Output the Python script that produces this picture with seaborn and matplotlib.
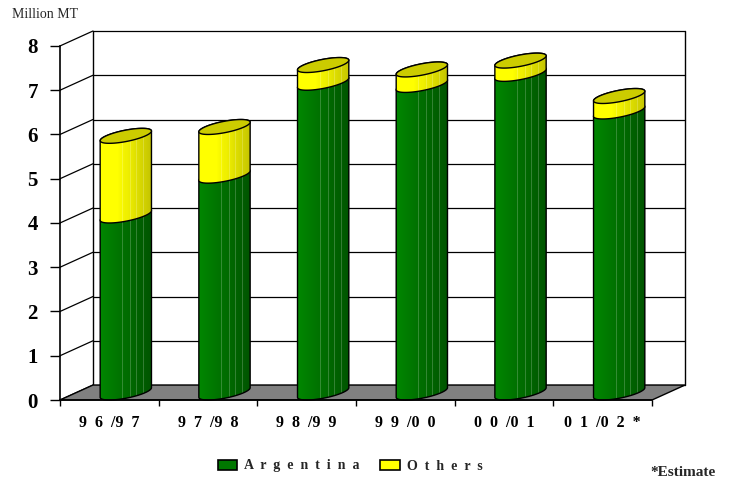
import numpy as np
import pandas as pd
import matplotlib
matplotlib.use("Agg")
import matplotlib.pyplot as plt
from matplotlib.colors import to_rgb
from matplotlib.patches import Polygon, Patch
import seaborn as sns

# Dados (milhões de toneladas métricas)
seasons = ["96/97", "97/98", "98/99", "99/00", "00/01", "01/02*"]
season_labels = ["9  6  /9  7", "9  7  /9  8", "9  8  /9  9", "9  9  /0  0",
                 "0  0  /0  1", "0  1  /0  2  *"]
argentina = [4.0, 4.9, 7.0, 6.95, 7.2, 6.35]
others = [1.8, 1.1, 0.4, 0.35, 0.3, 0.35]
y_ticks = [0, 1, 2, 3, 4, 5, 6, 7, 8]
legend_labels = ["A  r  g  e  n  t  i  n  a", "O  t  h  e  r  s"]

GREEN = "#007800"
YELLOW = "#FFFF00"
CAP = "#CCCC00"
FLOOR = "#808080"

sns.set_style("white")
plt.rcParams["font.family"] = ["Liberation Serif", "DejaVu Serif"]
plt.rcParams["font.weight"] = "bold"

fig = plt.figure(figsize=(7.32, 4.8), dpi=100)
ax = fig.add_axes([60 / 732, 80 / 480, 625 / 732, 369 / 480])

n = len(seasons)
top = y_ticks[-1]
hx, hy = 0.167, 0.169   # metade da profundidade do efeito 3D (unidades de dados)
bar_w = 0.52

df = pd.DataFrame({"season": seasons, "Argentina": argentina, "Others": others})
sns.barplot(data=df, x="season", y="Argentina", color=GREEN, width=bar_w, saturation=1,
            errorbar=None, linewidth=0, ax=ax)
sns.barplot(data=df, x="season", y="Others", bottom=argentina, color=YELLOW, width=bar_w,
            saturation=1, errorbar=None, linewidth=0, ax=ax)
bars = list(ax.patches)


def shade(color, dark):
    # gradiente horizontal do cilindro (claro à esquerda, escuro à direita)
    rgb = np.array(to_rgb(color))
    u = np.linspace(0, 1, 51)
    f = 1.12 - dark * u
    img = np.clip(rgb[None, :] * f[:, None], 0, 1)
    for j in (22, 29, 35, 42):
        img[j] = img[j] * 0.8 + 0.2
    return img[None, :, :]


for k, p in enumerate(bars):
    color = p.get_facecolor()
    x0, w = p.get_x(), p.get_width()
    y0, y1 = p.get_y(), p.get_y() + p.get_height()
    xc, hw = x0 + w / 2, w / 2
    a = np.sqrt(hw ** 2 - hx ** 2)
    th = np.arctan2(hx, a)
    t_low = np.linspace(np.pi + th, 2 * np.pi + th, 60)
    t_up = np.linspace(th, np.pi + th, 60)

    def ex(t):
        return xc + a * np.cos(t) + hx * np.sin(t)

    def ey(t, v):
        return v + hy * np.sin(t)

    body = np.column_stack([np.r_[ex(t_low), ex(t_up)],
                            np.r_[ey(t_low, y0), ey(t_up, y1)]])
    clip = Polygon(body, closed=True, transform=ax.transData)
    z = 3 + k // n
    p.set_y(y0 - hy)
    p.set_height(y1 - y0 + 2 * hy)
    p.set_clip_path(clip)
    p.set_zorder(z)
    im = ax.imshow(shade(color, 0.42 if k < n else 0.35),
                   extent=(xc - hw, xc + hw, y0 - hy, y1 + hy),
                   aspect="auto", interpolation="nearest", zorder=z)
    im.set_clip_path(clip)
    ax.add_patch(Polygon(body, closed=True, fill=False, ec="black", lw=1,
                         zorder=z + 0.2, clip_on=False))
    if k >= n:
        t = np.linspace(0, 2 * np.pi, 100)
        ax.add_patch(Polygon(np.column_stack([ex(t), ey(t, y1)]), closed=True,
                             fc=CAP, ec="black", lw=1, zorder=z + 0.5))

# parede do fundo, parede lateral e piso
xl, xr = -0.5 - hx, n - 0.5 - hx
bl, br = -0.5 + hx, n - 0.5 + hx
ax.add_patch(Polygon([(xl, -hy), (xr, -hy), (br, hy), (bl, hy)], closed=True,
                     fc=FLOOR, ec="black", lw=1, zorder=1, clip_on=False))
for v in y_ticks:
    ax.plot([bl, br], [v + hy, v + hy], color="black", lw=0.9, zorder=0.5, clip_on=False)
    ax.plot([xl, bl], [v - hy, v + hy], color="black", lw=0.9, zorder=0.5, clip_on=False)
ax.plot([bl, bl], [hy, top + hy], color="black", lw=1, zorder=0.5, clip_on=False)
ax.plot([br, br], [hy, top + hy], color="black", lw=1, zorder=0.5, clip_on=False)

sns.despine(ax=ax, top=True, right=True)
ax.spines["left"].set_bounds(-hy, top - hy)
ax.spines["bottom"].set_bounds(xl, xr)
for s in ("left", "bottom"):
    ax.spines[s].set_color("black")
    ax.spines[s].set_linewidth(1.2)
    ax.spines[s].set_zorder(6)

ax.set_yticks([v - hy for v in y_ticks], labels=[str(v) for v in y_ticks])
ax.tick_params(axis="y", left=True, length=7, width=1, pad=9, labelsize=15,
               colors="black")
ax.set_xticks([i - hx for i in range(n)], labels=season_labels)
ax.set_xticks([i - 0.5 - hx for i in range(n + 1)], minor=True)
ax.tick_params(axis="x", which="major", bottom=True, length=0, pad=11, labelsize=11.5,
               colors="black")
ax.tick_params(axis="x", which="minor", bottom=True, length=4, width=1, color="black")
ax.set_xlabel("")
ax.set_ylabel("")
ax.set_xlim(xl, br)
ax.set_ylim(-hy, top + hy)

fig.text(12 / 732, 1 - 15 / 480, "Million MT", fontsize=10, fontweight="normal",
         va="center", ha="left")
fig.text(716 / 732, 1 - 472 / 480, "*Estimate", fontsize=11, fontweight="bold",
         va="center", ha="right")

handles = [Patch(fc=GREEN, ec="black", lw=1.2), Patch(fc=YELLOW, ec="black", lw=1.2)]
fig.legend(handles, legend_labels, loc="center", bbox_to_anchor=(350 / 732, 1 - 466 / 480),
           ncol=2, frameon=False, fontsize=10, handlelength=1.4, handleheight=0.7,
           handletextpad=0.5, columnspacing=1.5)

fig.savefig("out.png", dpi=100, facecolor="white")
